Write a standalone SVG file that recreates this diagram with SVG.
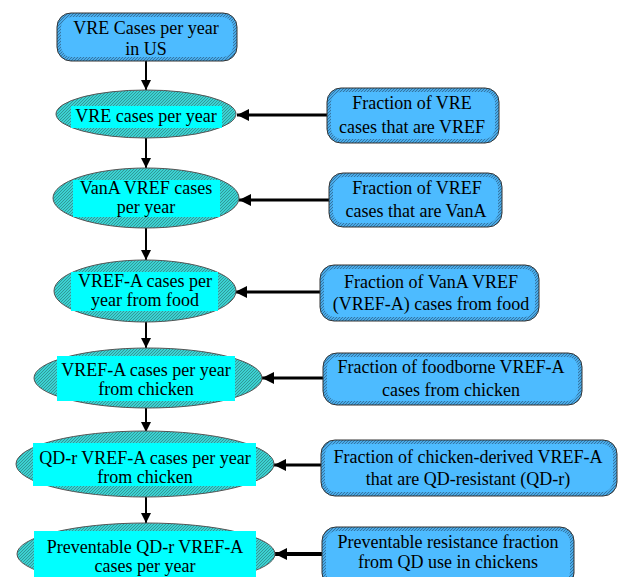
<svg xmlns="http://www.w3.org/2000/svg" width="618" height="577" viewBox="0 0 618 577">
<defs>
<pattern id="hatchT" width="3" height="3" patternUnits="userSpaceOnUse">
<rect width="3" height="3" fill="#3cd2d2"/>
<path d="M-1,1 L1,-1 M0,3 L3,0 M2,4 L4,2" stroke="#2a8080" stroke-width="0.7"/>
</pattern>
<pattern id="hatchB" width="3" height="3" patternUnits="userSpaceOnUse">
<rect width="3" height="3" fill="#4aacea"/>
<path d="M-1,1 L1,-1 M0,3 L3,0 M2,4 L4,2" stroke="#2a5f86" stroke-width="0.7"/>
</pattern>
<marker id="hv" markerUnits="userSpaceOnUse" markerWidth="10" markerHeight="11" refX="10" refY="5" orient="auto">
<path d="M0,0 L10,5 L0,10 Z" fill="#000"/>
</marker>
<marker id="hh" markerUnits="userSpaceOnUse" markerWidth="13" markerHeight="13" refX="12" refY="6" orient="auto">
<path d="M0,0 L12,6 L0,12 Z" fill="#000"/>
</marker>
</defs>
<style>
.ob{fill:url(#hatchB);stroke:#333;stroke-width:1}
.ib{fill:#4dbbff}
.el{fill:url(#hatchT);stroke:#555;stroke-width:1}
.tb{fill:#00ffff}
text{font-size:18px;fill:#000;text-anchor:middle}
.v{stroke:#000;stroke-width:2;fill:none;marker-end:url(#hv)}
.h{stroke:#000;stroke-width:3;fill:none;marker-end:url(#hh)}
</style>
<g font-family="'Liberation Serif', 'Times New Roman', serif">
<g id="connectors">
<line class="v" x1="146" y1="61" x2="146" y2="90"/>
<line class="v" x1="146" y1="138" x2="146" y2="168"/>
<line class="v" x1="146" y1="228" x2="146" y2="260"/>
<line class="v" x1="146" y1="322" x2="146" y2="348"/>
<line class="v" x1="146" y1="407" x2="146" y2="432"/>
<line class="v" x1="146" y1="497" x2="146" y2="523"/>
<line class="h" x1="327" y1="115" x2="237" y2="115"/>
<line class="h" x1="329" y1="200" x2="239" y2="200"/>
<line class="h" x1="320" y1="292" x2="235" y2="292"/>
<line class="h" x1="323" y1="378" x2="262" y2="378"/>
<line class="h" x1="321" y1="465" x2="274" y2="465"/>
<line class="h" x1="322" y1="554" x2="275" y2="554" style="stroke-width:4"/>
</g>

<g id="vre-us">
<rect class="ob" x="57" y="13" width="180" height="48" rx="14"/>
<rect class="ib" x="61" y="17" width="172" height="40" rx="11"/>
<text x="146" y="34">VRE Cases per year</text>
<text x="146" y="55">in US</text>
</g>

<g id="e1">
<ellipse class="el" cx="146" cy="114" rx="90" ry="24"/>
<rect class="tb" x="71" y="106" width="151" height="22"/>
<text x="146" y="122">VRE cases per year</text>
</g>

<g id="e2">
<ellipse class="el" cx="146" cy="198" rx="93" ry="30"/>
<rect class="tb" x="73" y="180" width="147" height="37"/>
<text x="146" y="194">VanA VREF cases</text>
<text x="146" y="213">per year</text>
</g>

<g id="e3">
<ellipse class="el" cx="145" cy="291" rx="91" ry="31"/>
<rect class="tb" x="71" y="272" width="147" height="39"/>
<text x="145" y="287">VREF-A cases per</text>
<text x="145" y="306">year from food</text>
</g>

<g id="e4">
<ellipse class="el" cx="148" cy="378" rx="114" ry="30"/>
<rect class="tb" x="57" y="356" width="178" height="45"/>
<text x="146" y="376">VREF-A cases per year</text>
<text x="146" y="395">from chicken</text>
</g>

<g id="e5">
<ellipse class="el" cx="145" cy="464" rx="129" ry="33"/>
<rect class="tb" x="33" y="443" width="223" height="43"/>
<text x="145" y="464">QD-r VREF-A cases per year</text>
<text x="145" y="483">from chicken</text>
</g>

<g id="e6">
<ellipse class="el" cx="146" cy="554" rx="129" ry="31"/>
<rect class="tb" x="34" y="531" width="222" height="50"/>
<text x="145" y="553">Preventable QD-r VREF-A</text>
<text x="145" y="572">cases per year</text>
</g>

<g id="r1">
<rect class="ob" x="327" y="88" width="172" height="55" rx="14"/>
<rect class="ib" x="331" y="92" width="164" height="47" rx="11"/>
<text x="412" y="109">Fraction of VRE</text>
<text x="412" y="133">cases that are VREF</text>
</g>

<g id="r2">
<rect class="ob" x="329" y="173" width="173" height="54" rx="14"/>
<rect class="ib" x="333" y="177" width="165" height="46" rx="11"/>
<text x="417" y="194">Fraction of VREF</text>
<text x="416" y="217">cases that are VanA</text>
</g>

<g id="r3">
<rect class="ob" x="320" y="265" width="219" height="56" rx="14"/>
<rect class="ib" x="324" y="269" width="211" height="48" rx="11"/>
<text x="431" y="288">Fraction of VanA VREF</text>
<text x="431" y="310">(VREF-A) cases from food</text>
</g>

<g id="r4">
<rect class="ob" x="323" y="353" width="259" height="52" rx="14"/>
<rect class="ib" x="327" y="357" width="251" height="44" rx="11"/>
<text x="451" y="373">Fraction of foodborne VREF-A</text>
<text x="451" y="396">cases from chicken</text>
</g>

<g id="r5">
<rect class="ob" x="321" y="440" width="296" height="56" rx="14"/>
<rect class="ib" x="325" y="444" width="288" height="48" rx="11"/>
<text x="468" y="463">Fraction of chicken-derived VREF-A</text>
<text x="468" y="485">that are QD-resistant (QD-r)</text>
</g>

<g id="r6">
<rect class="ob" x="322" y="527" width="252" height="60" rx="14"/>
<rect class="ib" x="326" y="531" width="244" height="52" rx="11"/>
<text x="448" y="548">Preventable resistance fraction</text>
<text x="448" y="568">from QD use in chickens</text>
</g>
</g>
</svg>
